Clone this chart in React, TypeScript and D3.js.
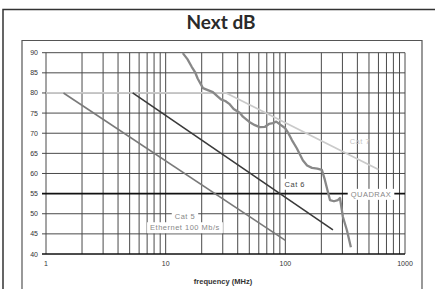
import React, { useEffect, useRef } from 'react';
import * as d3 from 'd3';

// frequency (MHz) / NEXT (dB)
const cat5Freq = [1.4, 100];
const cat5Db = [80, 43.4];
const cat6Freq = [5.3, 250];
const cat6Db = [80, 46];
const cat7Freq = [1, 32, 600];
const cat7Db = [80, 80, 61];
const quadraxFreq = [13.9, 15.2, 16.5, 17.6, 18.5, 20.5, 22.5, 24.8, 27, 29, 31.5, 34, 37, 41.8, 44.2, 50, 55.7, 61, 67.6, 73, 78.8, 84, 90.1, 99.3, 106, 113.5, 125, 140, 152, 167, 185, 202, 214, 236, 255, 275, 286, 303, 327, 353];
const quadraxDb = [89.9, 88.4, 86.5, 85.2, 83.6, 81.2, 80.7, 80.2, 79.2, 78.4, 78.0, 77.3, 76.0, 75.0, 74.1, 72.8, 72.0, 71.5, 71.6, 72.3, 72.5, 72.9, 72.2, 71.3, 70.0, 68.3, 66.2, 63.3, 62.0, 61.4, 61.2, 60.9, 58.4, 53.4, 53.1, 53.4, 53.9, 49.2, 45.9, 41.7];

const yTicks = [40, 45, 50, 55, 60, 65, 70, 75, 80, 85, 90];
const xTicks = [1, 10, 100, 1000];

function App() {
  const svgRef = useRef(null);

  useEffect(() => {
    const svg = d3.select(svgRef.current);
    svg.selectAll('*').remove();

    const x = d3.scaleLog().domain([1, 1000]).range([46, 405]);
    const y = d3.scaleLinear().domain([40, 90]).range([254, 52.7]);

    // frames
    svg.append('path').attr('d', 'M3,289 L3,9.5 L435,9.5').attr('fill', 'none').attr('stroke', '#333').attr('stroke-width', 1.5);
    svg.append('path').attr('d', 'M22,289 L22,40.5 L422,40.5 L422,289').attr('fill', 'none').attr('stroke', '#555').attr('stroke-width', 1.2);

    svg.append('text').attr('x', 221).attr('y', 29).attr('text-anchor', 'middle')
      .attr('font-family', 'Lato').attr('font-weight', 700).attr('font-size', 19).attr('fill', '#2a2a2a')
      .text('Next dB');

    const g = svg.append('g');

    // vertical grid (log minor lines)
    const minor = [];
    for (let d = 1; d < 1000; d *= 10) for (let k = 1; k < 10; k++) minor.push(d * k);
    minor.push(1000);
    g.selectAll('.vg').data(minor).enter().append('line')
      .attr('x1', (d) => x(d)).attr('x2', (d) => x(d))
      .attr('y1', y(90)).attr('y2', y(40))
      .attr('stroke', '#4a4a4a').attr('stroke-width', 1);

    g.selectAll('.hg').data(yTicks).enter().append('line')
      .attr('x1', x(1) - 4).attr('x2', x(1000))
      .attr('y1', (d) => y(d)).attr('y2', (d) => y(d))
      .attr('stroke', (d) => (d === 55 || d === 40 ? '#111' : '#4a4a4a'))
      .attr('stroke-width', (d) => (d === 55 ? 1.6 : d === 40 ? 1.3 : 1));

    g.selectAll('.yl').data(yTicks).enter().append('text')
      .attr('x', 38).attr('y', (d) => y(d) + 2.5).attr('text-anchor', 'end')
      .attr('font-family', 'Liberation Sans').attr('font-size', 7).attr('fill', '#333')
      .text((d) => d);

    g.selectAll('.xl').data(xTicks).enter().append('text')
      .attr('x', (d) => x(d)).attr('y', 266).attr('text-anchor', 'middle')
      .attr('font-family', 'Liberation Sans').attr('font-size', 7).attr('fill', '#333')
      .text((d) => d);

    g.append('text').attr('x', 223).attr('y', 284).attr('text-anchor', 'middle')
      .attr('font-family', 'Liberation Sans').attr('font-weight', 700).attr('font-size', 7.5).attr('fill', '#333')
      .text('frequency (MHz)');

    const line = d3.line().x((d) => x(d[0])).y((d) => y(d[1]));
    const series = [
      { f: cat7Freq, v: cat7Db, color: '#cacaca', w: 1.8 },
      { f: cat5Freq, v: cat5Db, color: '#7a7a7a', w: 1.6 },
      { f: cat6Freq, v: cat6Db, color: '#3a3a3a', w: 1.6 },
      { f: quadraxFreq, v: quadraxDb, color: '#888', w: 2.3 },
    ];
    series.forEach((s) => {
      g.append('path').datum(s.f.map((f, i) => [f, s.v[i]]))
        .attr('d', line).attr('fill', 'none')
        .attr('stroke', s.color).attr('stroke-width', s.w).attr('stroke-linejoin', 'round');
    });

    // labels with white boxes
    const labels = [
      { t: 'Cat 5', f: 14.5, v: 48.6, color: '#888', bg: true },
      { t: 'Ethernet 100 Mb/s', f: 14.5, v: 45.9, color: '#888', bg: true },
      { t: 'Cat 6', f: 120, v: 56.7, color: '#444', bg: true },
      { t: 'Cat 7', f: 420, v: 67.3, color: '#c4c4c4', bg: false },
      { t: 'QUADRAX', f: 520, v: 54.2, color: '#888', bg: true },
    ];
    labels.forEach((l) => {
      const lg = g.append('g');
      const bgRect = lg.append('rect').attr('fill', '#fff');
      const txt = lg.append('text').attr('x', x(l.f)).attr('y', y(l.v)).attr('text-anchor', 'middle')
        .attr('font-family', 'Liberation Sans').attr('font-size', 7.5).attr('letter-spacing', 0.5)
        .attr('fill', l.color).text(l.t);
      if (l.bg) {
        const b = txt.node().getBBox();
        bgRect.attr('x', b.x - 3).attr('y', b.y - 1).attr('width', b.width + 6).attr('height', b.height + 2);
      } else bgRect.remove();
    });
  }, []);

  return (
    <svg ref={svgRef} width="435" height="289" style={{ position: 'absolute', left: 0, top: 0, background: '#fff' }}></svg>
  );
}

export default App;
